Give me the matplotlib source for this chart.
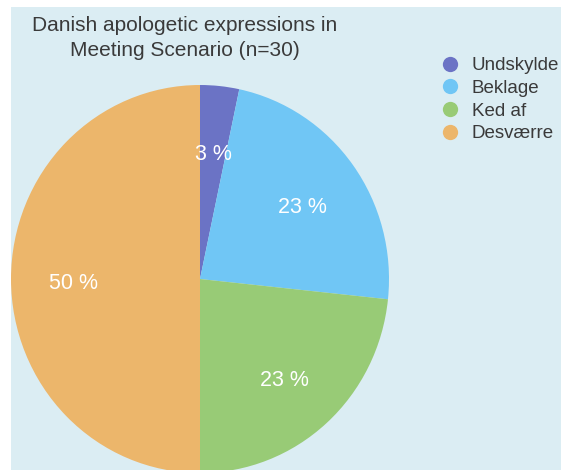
import matplotlib.pyplot as plt
from matplotlib.lines import Line2D
from matplotlib.patches import Rectangle
from matplotlib.transforms import ScaledTranslation

plt.rcParams['font.family'] = ['Liberation Sans', 'DejaVu Sans']

# ---------- Data ----------
labels = ["Undskylde", "Beklage", "Ked af", "Desværre"]
counts = [1, 7, 7, 15]
colors = ["#6b73c5", "#70c6f5", "#98cb76", "#ecb66b"]
title = "Danish apologetic expressions in\nMeeting Scenario (n=30)"

W, H = 561, 470
fig = plt.figure(figsize=(W / 100, H / 100), dpi=100)
fig.patch.set_facecolor("white")

# light blue panel behind everything
fig.patches.append(Rectangle((11 / W, 0), 1 - 11 / W, (H - 7) / H,
                             transform=fig.transFigure, facecolor="#dbedf3",
                             edgecolor="none", zorder=-5))

# ---------- Pie ----------
cx, cy, rx, ry = 200, 279, 189, 194
ax = fig.add_axes([(cx - rx) / W, (H - cy - ry) / H, 2 * rx / W, 2 * ry / H])
ax.set_zorder(2)
ax.patch.set_visible(False)
wedges, _, autotexts = ax.pie(counts, colors=colors, startangle=90, counterclock=False,
                              autopct=lambda p: f"{p:.0f} %", pctdistance=0.67,
                              wedgeprops=dict(linewidth=0),
                              textprops=dict(color="white", fontsize=15.5))
# nudge the percentage labels down a little
shift = ScaledTranslation(0, -4.5 / 100, fig.dpi_scale_trans)
for t in autotexts:
    t.set_transform(t.get_transform() + shift)
ax.set_aspect("auto")
ax.set_xlim(-1, 1)
ax.set_ylim(-1, 1)

# ---------- Title ----------
fig.text(185 / W, 1 - 38 / H, title, ha="center", va="center", fontsize=15,
         color="#3a3a3a", linespacing=1.45)

# ---------- Legend ----------
handles = [Line2D([], [], marker="o", linestyle="none", markersize=11,
                  markerfacecolor=c, markeredgecolor="none") for c in colors]
fig.legend(handles, labels, loc="upper left", bbox_to_anchor=(441 / W, 1 - 57 / H),
           frameon=False, fontsize=13.5, handlelength=1.0, handletextpad=0.65,
           labelspacing=0.3, borderpad=0, borderaxespad=0, labelcolor="#3a3a3a")

fig.savefig("out.png", dpi=100)
